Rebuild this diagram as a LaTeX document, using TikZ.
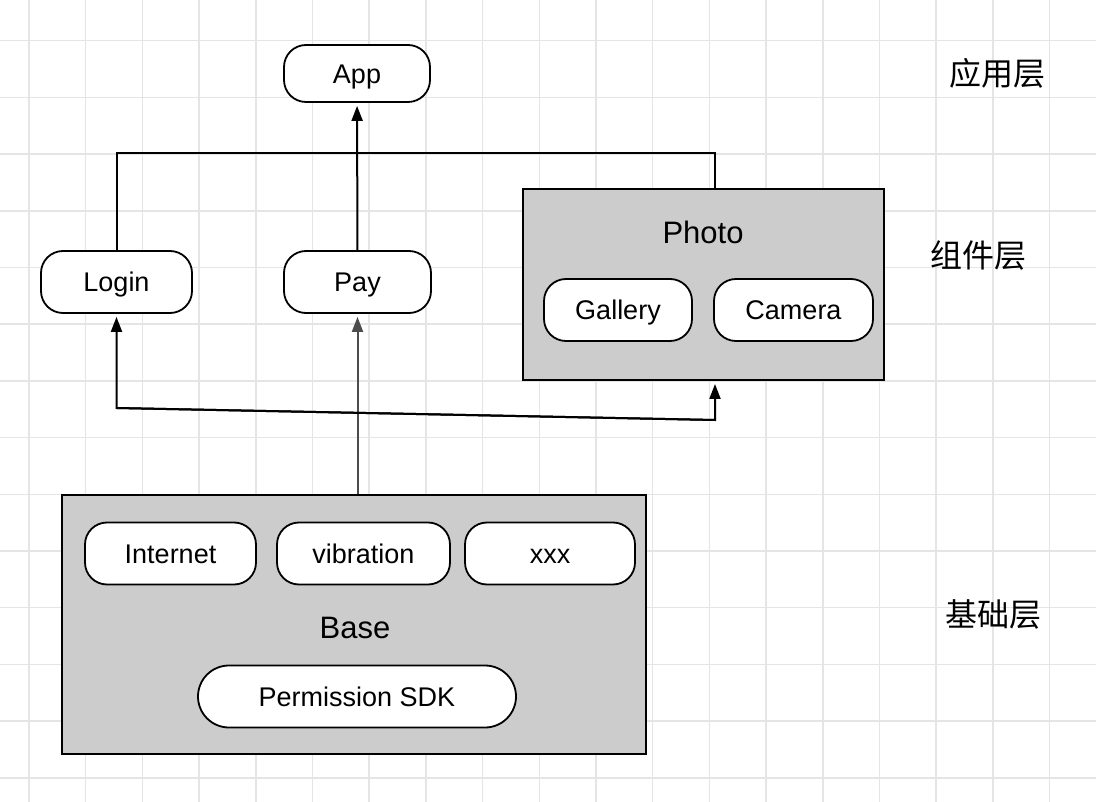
\documentclass[tikz,border=0pt]{standalone}
\usepackage{fontspec}
\setmainfont{Liberation Sans}
\newfontfamily\cjkfont{Noto Sans CJK SC}
\usetikzlibrary{arrows.meta}

\begin{document}
\begin{tikzpicture}[x=1pt, y=-1pt,
    pill/.style={draw, line width=1.8pt, rounded corners=22pt, fill=white,
      minimum height=62pt, inner sep=0pt, text height=20pt, text depth=0pt,
      font=\fontsize{27}{30}\selectfont},
    layer/.style={draw, line width=2pt, fill=black!20, inner sep=0pt},
    title/.style={text height=22pt, text depth=0pt, font=\fontsize{31}{36}\selectfont},
    tier/.style={font=\cjkfont\fontsize{32}{36}\selectfont},
    link/.style={line width=2pt},
    arrow/.style={link, shorten >=3pt, -{Triangle[length=15pt,width=11pt]}},
    gridline/.style={draw=black!10, line width=1.5pt}]

    \useasboundingbox (0,0) rectangle (1096,802);
    \fill[white] (0,0) rectangle (1096,802);

    % Hintergrundraster
    \foreach \i in {0,...,18}
      \draw[gridline] ({29+56.7*\i},0) -- ({29+56.7*\i},802);
    \foreach \j in {0,...,13}
      \draw[gridline] (0,{40.7+56.7*\j}) -- (1096,{40.7+56.7*\j});

    % Basisschicht
    \node[layer, minimum width=584pt, minimum height=259pt] (base) at (354,624.5) {};
    \node[title] (baseTitle) at (355,627) {Base};
    \node[pill, minimum width=171pt] (internet) at (170.5,553.5) {Internet};
    \node[pill, minimum width=173pt] (vibration) at (363.5,553.5) {vibration};
    \node[pill, minimum width=170pt] (xxx) at (550,553.5) {xxx};
    \node[pill, minimum width=318pt, rounded corners=31pt] (permission) at (357,696.5) {Permission SDK};

    % Komponentenschicht
    \node[layer, minimum width=361pt, minimum height=191pt] (photo) at (703.5,284.5) {};
    \node[title] (photoTitle) at (703,233) {Photo};
    \node[pill, minimum width=148pt] (gallery) at (618,310) {Gallery};
    \node[pill, minimum width=159pt] (camera) at (793.5,310) {Camera};
    \node[pill, minimum width=151pt] (login) at (116.5,282) {Login};
    \node[pill, minimum width=147pt] (pay) at (357.5,282) {Pay};

    % Anwendungsschicht
    \node[pill, minimum width=146pt, minimum height=57pt] (app) at (357,73.5) {App};

    % Schichtnamen
    \node[tier] (tierApp) at (997,73) {应用层};
    \node[tier] (tierComp) at (978,255) {组件层};
    \node[tier] (tierBase) at (993,614) {基础层};

    % Verbindungen
    \coordinate (joinL) at (116.5,153);
    \coordinate (joinR) at (715,153);
    \coordinate (busL) at (116.5,408);
    \coordinate (busR) at (715,420);

    \draw[arrow] (pay) -- (app);
    \draw[link] (login) -- (joinL) -- (joinR) -- (joinR |- photo.north);
    \draw[arrow, draw=black!70] (pay |- base.north) -- (pay);
    \draw[arrow] (busR) -- (busL) -- (login);
    \draw[arrow] (busL) -- (busR) -- (busR |- photo.south);
\end{tikzpicture}
\end{document}
